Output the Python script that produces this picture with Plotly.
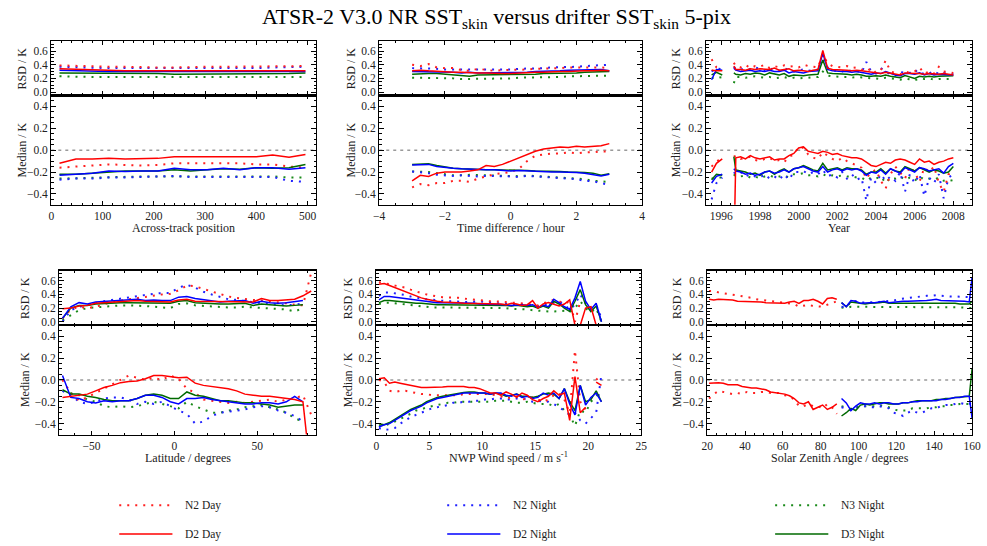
import plotly.graph_objects as go

W, H = 987, 546

# ---------------- data ----------------
# Across-track position
track_x = [16, 48, 80, 112, 144, 176, 208, 240, 272, 304, 336, 368, 400, 432, 464, 496]
track_rsd_n2day = [0.39, 0.38, 0.37, 0.37, 0.37, 0.36, 0.36, 0.36, 0.37, 0.37, 0.37, 0.37, 0.37, 0.37, 0.37, 0.38]
track_rsd_d2day = [0.34, 0.33, 0.32, 0.32, 0.31, 0.31, 0.31, 0.31, 0.30, 0.31, 0.31, 0.31, 0.31, 0.31, 0.31, 0.31]
track_rsd_n2night = [0.37, 0.36, 0.35, 0.35, 0.35, 0.35, 0.34, 0.34, 0.34, 0.34, 0.35, 0.35, 0.35, 0.36, 0.36, 0.37]
track_rsd_d2night = [0.32, 0.31, 0.30, 0.30, 0.30, 0.30, 0.30, 0.29, 0.29, 0.29, 0.30, 0.30, 0.30, 0.30, 0.30, 0.30]
track_rsd_n3night = [0.23, 0.22, 0.22, 0.22, 0.22, 0.22, 0.22, 0.21, 0.21, 0.21, 0.22, 0.22, 0.22, 0.22, 0.21, 0.22]
track_rsd_d3night = [0.28, 0.28, 0.27, 0.27, 0.27, 0.27, 0.27, 0.26, 0.26, 0.26, 0.27, 0.27, 0.27, 0.27, 0.27, 0.28]
track_med_d2day = [-0.12, -0.08, -0.08, -0.075, -0.08, -0.08, -0.075, -0.06, -0.06, -0.06, -0.055, -0.055, -0.06, -0.045, -0.065, -0.04]
track_med_n2day = [-0.16, -0.15, -0.14, -0.13, -0.135, -0.14, -0.135, -0.12, -0.12, -0.12, -0.125, -0.12, -0.13, -0.13, -0.15, -0.16]
track_med_d2night = [-0.23, -0.22, -0.21, -0.19, -0.195, -0.19, -0.19, -0.165, -0.18, -0.18, -0.165, -0.18, -0.16, -0.16, -0.175, -0.16]
track_med_d3night = [-0.22, -0.22, -0.21, -0.20, -0.19, -0.19, -0.19, -0.18, -0.19, -0.18, -0.17, -0.175, -0.16, -0.165, -0.16, -0.13]
track_med_n2night = [-0.27, -0.26, -0.26, -0.25, -0.25, -0.245, -0.245, -0.235, -0.245, -0.245, -0.245, -0.25, -0.245, -0.245, -0.28, -0.29]
track_med_n3night = [-0.26, -0.255, -0.25, -0.245, -0.245, -0.24, -0.24, -0.24, -0.24, -0.24, -0.24, -0.245, -0.245, -0.24, -0.25, -0.25]

# Time difference / hour
time_x = [-3, -2.75, -2.5, -2.25, -2, -1.75, -1.5, -1.25, -1, -0.75, -0.5, -0.25, 0,
          0.25, 0.5, 0.75, 1, 1.25, 1.5, 1.75, 2, 2.25, 2.5, 2.75, 3]
time_rsd_n2day = [0.40, 0.38, 0.41, 0.36, 0.35, 0.35, 0.32, 0.31, 0.34, 0.32, 0.31, 0.32, 0.32,
                  0.33, 0.33, 0.34, 0.34, 0.35, 0.35, 0.36, 0.36, 0.36, 0.37, 0.36, 0.35]
time_rsd_d2day = [0.31, 0.32, 0.31, 0.30, 0.30, 0.29, 0.29, 0.28, 0.28, 0.28, 0.27, 0.27, 0.27,
                  0.28, 0.28, 0.29, 0.29, 0.30, 0.30, 0.30, 0.31, 0.31, 0.31, 0.32, 0.31]
time_rsd_n2night = [0.35, 0.35, 0.34, 0.34, 0.33, 0.33, 0.33, 0.32, 0.32, 0.32, 0.33, 0.33, 0.33,
                    0.34, 0.34, 0.35, 0.35, 0.36, 0.36, 0.37, 0.37, 0.38, 0.39, 0.40, 0.40]
time_rsd_d2night = [0.30, 0.30, 0.30, 0.29, 0.29, 0.29, 0.28, 0.29, 0.28, 0.28, 0.28, 0.28, 0.28,
                    0.29, 0.29, 0.30, 0.30, 0.31, 0.31, 0.32, 0.32, 0.32, 0.33, 0.33, 0.31]
time_rsd_n3night = [0.21, 0.21, 0.20, 0.20, 0.20, 0.20, 0.19, 0.19, 0.19, 0.19, 0.20, 0.20, 0.20,
                    0.21, 0.21, 0.21, 0.22, 0.22, 0.22, 0.23, 0.23, 0.23, 0.24, 0.24, 0.24]
time_rsd_d3night = [0.26, 0.27, 0.27, 0.27, 0.26, 0.26, 0.25, 0.23, 0.25, 0.25, 0.25, 0.25, 0.25,
                    0.26, 0.26, 0.26, 0.27, 0.27, 0.28, 0.28, 0.28, 0.29, 0.29, 0.30, 0.30]
time_med_d2day = [-0.28, -0.23, -0.24, -0.21, -0.20, -0.20, -0.20, -0.19, -0.18, -0.14, -0.15, -0.13, -0.10,
                  -0.07, -0.04, -0.01, 0.01, 0.02, 0.03, 0.025, 0.035, 0.03, 0.035, 0.04, 0.06]
time_med_n2day = [-0.34, -0.31, -0.32, -0.30, -0.30, -0.28, -0.28, -0.29, -0.26, -0.24, -0.22, -0.21, -0.20,
                  -0.17, -0.10, -0.05, -0.04, -0.03, -0.03, -0.02, -0.03, -0.02, -0.02, -0.01, -0.015]
time_med_d2night = [-0.135, -0.135, -0.13, -0.15, -0.16, -0.165, -0.17, -0.175, -0.18, -0.18, -0.18, -0.185, -0.19,
                    -0.185, -0.19, -0.19, -0.195, -0.20, -0.20, -0.20, -0.205, -0.21, -0.22, -0.235, -0.22]
time_med_d3night = [-0.13, -0.13, -0.125, -0.14, -0.155, -0.165, -0.17, -0.175, -0.18, -0.18, -0.18, -0.18, -0.185,
                    -0.18, -0.185, -0.19, -0.19, -0.19, -0.195, -0.20, -0.20, -0.205, -0.21, -0.23, -0.215]
time_med_n2night = [-0.195, -0.20, -0.21, -0.225, -0.23, -0.235, -0.23, -0.235, -0.24, -0.235, -0.235, -0.24, -0.24,
                    -0.245, -0.235, -0.24, -0.245, -0.25, -0.255, -0.26, -0.265, -0.28, -0.285, -0.30, -0.32]
time_med_n3night = [-0.195, -0.198, -0.20, -0.21, -0.22, -0.23, -0.23, -0.225, -0.228, -0.23, -0.232, -0.235, -0.238,
                    -0.238, -0.232, -0.236, -0.24, -0.245, -0.25, -0.255, -0.26, -0.265, -0.28, -0.285, -0.29]

# Year (early 1995-96 segment, a gap, then 1996.65 - 2008)
year_x = [1995.5, 1995.75, 1996.05, 1996.3,
          1996.65, 1996.75, 1997.0, 1997.25, 1997.5, 1997.75, 1998.0, 1998.25, 1998.5, 1998.75,
          1999.0, 1999.25, 1999.5, 1999.75, 2000.0, 2000.25, 2000.5, 2000.75, 2001.0, 2001.25,
          2001.5, 2001.75, 2002.0, 2002.25, 2002.5, 2002.75, 2003.0, 2003.25, 2003.5, 2003.75,
          2004.0, 2004.25, 2004.5, 2004.75, 2005.0, 2005.25, 2005.5, 2005.75, 2006.0, 2006.25,
          2006.5, 2006.75, 2007.0, 2007.25, 2007.5, 2007.75, 2008.0]
year_rsd_d2day = [0.32, 0.31, 0.31, None,
                  0.38, 0.33, 0.33, 0.32, 0.34, 0.33, 0.34, 0.33, 0.33, 0.35, 0.32, 0.33, 0.34, 0.31, 0.32,
                  0.31, 0.30, 0.32, 0.33, 0.61, 0.35, 0.33, 0.33, 0.32, 0.32, 0.31, 0.32, 0.31, 0.30, 0.28,
                  0.28, 0.27, 0.29, 0.28, 0.27, 0.25, 0.28, 0.27, 0.27, 0.27, 0.26, 0.27, 0.26, 0.26, 0.27,
                  0.26, 0.25]
year_rsd_n2day = [0.48, 0.36, 0.34, None,
                  0.43, 0.38, 0.36, 0.40, 0.35, 0.38, 0.37, 0.40, 0.35, 0.38, 0.36, 0.39, 0.37, 0.38, 0.36,
                  0.40, 0.38, 0.37, 0.36, 0.55, 0.42, 0.38, 0.37, 0.36, 0.38, 0.35, 0.36, 0.33, 0.30, 0.35,
                  0.28, 0.32, 0.46, 0.30, 0.28, 0.26, 0.30, 0.28, 0.30, 0.36, 0.27, 0.30, 0.27, 0.37, 0.30,
                  0.29, 0.28]
year_rsd_d2night = [0.18, 0.33, 0.32, None,
                    0.35, 0.32, 0.30, 0.31, 0.32, 0.30, 0.31, 0.30, 0.32, 0.30, 0.30, 0.32, 0.28, 0.30, 0.29,
                    0.28, 0.30, 0.31, 0.31, 0.57, 0.33, 0.31, 0.30, 0.30, 0.30, 0.29, 0.30, 0.29, 0.27, 0.26,
                    0.28, 0.27, 0.30, 0.27, 0.25, 0.24, 0.27, 0.27, 0.26, 0.28, 0.25, 0.27, 0.25, 0.26, 0.26,
                    0.26, 0.25]
year_rsd_n2night = [0.30, 0.35, 0.33, None,
                    0.37, 0.34, 0.33, 0.35, 0.33, 0.36, 0.34, 0.31, 0.35, 0.32, 0.31, 0.35, 0.32, 0.30, 0.32,
                    0.33, 0.31, 0.32, 0.33, 0.50, 0.36, 0.32, 0.31, 0.30, 0.33, 0.30, 0.31, 0.28, 0.44, 0.30,
                    0.27, 0.35, 0.30, 0.26, 0.24, 0.30, 0.27, 0.28, 0.33, 0.26, 0.28, 0.27, 0.31, 0.26, 0.28,
                    0.27, 0.26]
year_rsd_d3night = [0.25, 0.29, 0.25, None,
                    0.28, 0.26, 0.25, 0.27, 0.26, 0.28, 0.27, 0.25, 0.28, 0.26, 0.25, 0.27, 0.23, 0.25, 0.24,
                    0.24, 0.25, 0.26, 0.26, 0.47, 0.28, 0.27, 0.27, 0.26, 0.26, 0.25, 0.26, 0.25, 0.23, 0.23,
                    0.24, 0.23, 0.25, 0.23, 0.22, 0.21, 0.24, 0.22, 0.20, 0.23, 0.22, 0.23, 0.22, 0.23, 0.23,
                    0.23, 0.24]
year_rsd_n3night = [0.20, 0.22, 0.21, None,
                    0.13, 0.22, 0.22, 0.21, 0.22, 0.23, 0.22, 0.21, 0.22, 0.20, 0.21, 0.22, 0.20, 0.21, 0.20,
                    0.20, 0.21, 0.22, 0.22, 0.30, 0.24, 0.23, 0.22, 0.22, 0.22, 0.21, 0.22, 0.21, 0.21, 0.20,
                    0.20, 0.19, 0.21, 0.20, 0.18, 0.18, 0.20, 0.19, 0.17, 0.20, 0.19, 0.20, 0.18, 0.19, 0.19,
                    0.18, 0.19]
year_med_d2day = [-0.20, -0.12, -0.08, None,
                  -1.0, -0.07, -0.06, -0.08, -0.05, -0.07, -0.08, -0.07, -0.06, -0.09, -0.08, -0.08, -0.05,
                  -0.03, 0.02, 0.03, -0.01, -0.02, -0.03, -0.01, -0.02, -0.04, -0.03, -0.05, -0.06, -0.07,
                  -0.07, -0.08, -0.11, -0.14, -0.15, -0.13, -0.11, -0.12, -0.09, -0.08, -0.09, -0.11, -0.13,
                  -0.08, -0.11, -0.10, -0.13, -0.11, -0.10, -0.08, -0.07]
year_med_n2day = [-0.15, -0.10, -0.08, None,
                  -0.06, -0.05, -0.08, -0.07, -0.06, -0.09, -0.10, -0.08, -0.07, -0.10, -0.09, -0.11, -0.06,
                  -0.04, 0.03, 0.02, -0.04, -0.07, -0.08, -0.02, -0.05, -0.08, -0.10, -0.07, -0.10, -0.12,
                  -0.14, -0.16, -0.26, -0.20, -0.18, -0.28, -0.35, -0.22, -0.15, -0.20, -0.26, -0.15, -0.20,
                  -0.29, -0.16, -0.20, -0.15, -0.30, -0.38, -0.22, -0.20]
year_med_d2night = [-0.30, -0.24, -0.22, None,
                    -0.17, -0.19, -0.20, -0.22, -0.21, -0.23, -0.22, -0.20, -0.19, -0.21, -0.20, -0.18, -0.20,
                    -0.17, -0.16, -0.15, -0.17, -0.19, -0.20, -0.15, -0.20, -0.18, -0.17, -0.19, -0.17, -0.18,
                    -0.17, -0.19, -0.23, -0.20, -0.21, -0.18, -0.22, -0.17, -0.19, -0.21, -0.16, -0.18, -0.20,
                    -0.16, -0.17, -0.19, -0.18, -0.17, -0.21, -0.15, -0.12]
year_med_d3night = [-0.27, -0.22, -0.23, None,
                    -0.06, -0.18, -0.19, -0.20, -0.22, -0.21, -0.23, -0.20, -0.19, -0.22, -0.19, -0.17, -0.20,
                    -0.17, -0.16, -0.14, -0.16, -0.18, -0.19, -0.12, -0.18, -0.17, -0.16, -0.18, -0.16, -0.17,
                    -0.17, -0.18, -0.22, -0.20, -0.20, -0.17, -0.21, -0.17, -0.19, -0.20, -0.15, -0.17, -0.19,
                    -0.16, -0.18, -0.20, -0.18, -0.19, -0.21, -0.20, -0.15]
year_med_n2night = [-0.45, -0.30, -0.25, None,
                    -0.20, -0.22, -0.20, -0.24, -0.22, -0.24, -0.25, -0.22, -0.26, -0.24, -0.27, -0.22, -0.27,
                    -0.20, -0.20, -0.19, -0.22, -0.20, -0.22, -0.18, -0.24, -0.22, -0.25, -0.20, -0.26, -0.22,
                    -0.27, -0.25, -0.46, -0.25, -0.30, -0.22, -0.28, -0.24, -0.28, -0.20, -0.38, -0.22, -0.30,
                    -0.22, -0.42, -0.25, -0.30, -0.22, -0.44, -0.25, -0.22]
year_med_n3night = [-0.26, -0.25, -0.25, None,
                    -0.22, -0.24, -0.24, -0.23, -0.25, -0.24, -0.26, -0.24, -0.23, -0.25, -0.24, -0.23, -0.25,
                    -0.22, -0.22, -0.21, -0.23, -0.23, -0.24, -0.22, -0.24, -0.23, -0.24, -0.23, -0.24, -0.24,
                    -0.25, -0.25, -0.28, -0.25, -0.26, -0.24, -0.30, -0.25, -0.26, -0.24, -0.27, -0.25, -0.28,
                    -0.24, -0.27, -0.26, -0.27, -0.25, -0.28, -0.27, -0.28]

# Latitude / degrees
lat_x = [-67.5, -62.5, -57.5, -52.5, -47.5, -42.5, -37.5, -32.5, -27.5, -22.5, -17.5, -12.5, -7.5, -2.5,
         2.5, 7.5, 12.5, 17.5, 22.5, 27.5, 32.5, 37.5, 42.5, 47.5, 52.5, 57.5, 62.5, 67.5, 72.5, 77.5, 82.5]
lat_rsd_d2day = [0.19, 0.20, 0.23, 0.24, 0.27, 0.28, 0.29, 0.30, 0.30, 0.31, 0.30, 0.30, 0.30, 0.29, 0.32, 0.33,
                 0.30, 0.30, 0.29, 0.30, 0.29, 0.30, 0.30, 0.29, 0.34, 0.31, 0.31, 0.32, 0.33, 0.38, 0.45]
lat_rsd_n2day = [0.05, 0.18, 0.22, 0.20, 0.22, 0.26, 0.29, 0.31, 0.33, 0.35, 0.37, 0.39, 0.40, 0.41, 0.46, 0.53,
                 0.52, 0.48, 0.44, 0.40, 0.37, 0.35, 0.33, 0.32, 0.31, 0.30, 0.28, 0.27, 0.25, 0.24, 0.72]
lat_rsd_d2night = [0.05, 0.22, 0.28, 0.26, 0.29, 0.30, 0.31, 0.31, 0.33, 0.33, 0.31, 0.32, 0.31, 0.31, 0.36, 0.37,
                   0.34, 0.32, 0.30, 0.29, 0.30, 0.30, 0.31, 0.27, 0.30, 0.28, 0.27, 0.28, 0.29, 0.31, None]
lat_rsd_n2night = [0.00, 0.17, 0.22, 0.25, 0.28, 0.30, 0.32, 0.34, 0.35, 0.37, 0.39, 0.41, 0.42, 0.42, 0.50, 0.54,
                   0.50, 0.44, 0.40, 0.36, 0.33, 0.32, 0.30, 0.28, 0.27, 0.26, 0.25, 0.24, 0.25, 0.27, None]
lat_rsd_d3night = [0.05, 0.20, 0.24, 0.24, 0.26, 0.27, 0.28, 0.28, 0.28, 0.28, 0.27, 0.27, 0.27, 0.27, 0.30, 0.31,
                   0.28, 0.27, 0.26, 0.26, 0.26, 0.26, 0.27, 0.24, 0.26, 0.25, 0.24, 0.23, 0.24, 0.25, None]
lat_rsd_n3night = [0.02, 0.10, 0.17, 0.20, 0.21, 0.23, 0.24, 0.24, 0.24, 0.24, 0.23, 0.22, 0.21, 0.20, 0.26, 0.27,
                   0.24, 0.23, 0.22, 0.21, 0.21, 0.21, 0.22, 0.21, 0.20, 0.20, 0.19, 0.18, 0.15, 0.20, None]
lat_med_d2day = [-0.16, -0.15, -0.14, -0.13, -0.10, -0.07, -0.05, -0.025, -0.015, -0.01, 0.01, 0.04, 0.04, 0.03,
                 0.02, 0.025, -0.03, -0.05, -0.06, -0.07, -0.08, -0.10, -0.13, -0.14, -0.15, -0.15, -0.16, -0.17,
                 -0.18, -0.20, -0.90]
lat_med_n2day = [0.00, -0.12, -0.19, -0.16, -0.12, -0.08, -0.04, 0.00, 0.04, 0.02, 0.00, 0.02, 0.00, 0.04, 0.01,
                 -0.08, -0.12, -0.18, -0.19, -0.20, -0.21, -0.20, -0.21, -0.20, -0.19, -0.18, -0.20, -0.18, -0.17,
                 -0.14, -0.32]
lat_med_d2night = [0.04, -0.16, -0.17, -0.20, -0.21, -0.19, -0.20, -0.19, -0.19, -0.17, -0.14, -0.14, -0.16, -0.20,
                   -0.22, -0.17, -0.17, -0.16, -0.18, -0.19, -0.20, -0.21, -0.22, -0.22, -0.21, -0.21, -0.22, -0.20,
                   -0.15, -0.20, None]
lat_med_d3night = [-0.09, -0.13, -0.13, -0.15, -0.16, -0.18, -0.19, -0.19, -0.19, -0.17, -0.14, -0.13, -0.14, -0.17,
                   -0.17, -0.11, -0.14, -0.15, -0.17, -0.19, -0.19, -0.20, -0.21, -0.21, -0.22, -0.23, -0.25, -0.24,
                   -0.23, -0.23, None]
lat_med_n2night = [-0.10, -0.14, -0.20, -0.22, -0.20, -0.17, -0.16, -0.16, -0.18, -0.22, -0.20, -0.22, -0.20, -0.24,
                   -0.28, -0.31, -0.40, -0.38, -0.33, -0.30, -0.29, -0.28, -0.27, -0.25, -0.24, -0.25, -0.28, -0.30,
                   -0.33, -0.38, None]
lat_med_n3night = [-0.10, -0.12, -0.14, -0.18, -0.20, -0.24, -0.25, -0.24, -0.25, -0.24, -0.22, -0.20, -0.22, -0.24,
                   -0.26, -0.20, -0.24, -0.27, -0.30, -0.30, -0.28, -0.27, -0.25, -0.24, -0.23, -0.25, -0.27, -0.30,
                   -0.35, -0.38, None]

# NWP wind speed / m s-1
wind_x = [0.25, 0.75, 1.25, 1.75, 2.25, 2.75, 3.25, 3.75, 4.25, 4.75, 5.25, 5.75, 6.25, 6.75, 7.25,
          7.75, 8.25, 8.75, 9.25, 9.75, 10.25, 10.75, 11.25, 11.75, 12.25, 12.75, 13.25, 13.75, 14.25,
          14.75, 15.25, 15.75, 16.25, 16.75, 17.25, 17.75, 18.25, 18.75, 19.25, 19.75, 20.25, 20.75, 21.25]
wind_rsd_d2day = [0.55, 0.56, 0.53, 0.50, 0.47, 0.44, 0.40, 0.37, 0.35, 0.33, 0.31, 0.30, 0.29, 0.29, 0.28,
                  0.28, 0.27, 0.27, 0.27, 0.27, 0.26, 0.26, 0.26, 0.26, 0.25, 0.27, 0.26, 0.24, 0.25, 0.31,
                  0.20, 0.26, 0.28, 0.25, 0.23, 0.26, 0.32, -0.05, -0.05, 0.20, 0.22, -0.05, None]
wind_rsd_n2day = [0.58, 0.57, 0.55, 0.53, 0.52, 0.50, 0.47, 0.44, 0.42, 0.40, 0.38, 0.37, 0.36, 0.36, 0.35,
                  0.35, 0.34, 0.33, 0.32, 0.32, 0.31, 0.30, 0.30, 0.29, 0.29, 0.28, 0.28, 0.27, 0.26, 0.25,
                  0.24, 0.27, 0.30, 0.32, 0.30, 0.26, 0.30, 0.00, 0.30, None, None, None, None]
wind_rsd_d2night = [0.32, 0.37, 0.37, 0.36, 0.35, 0.33, 0.32, 0.31, 0.31, 0.30, 0.29, 0.28, 0.28, 0.28, 0.28,
                    0.27, 0.27, 0.27, 0.27, 0.26, 0.26, 0.26, 0.26, 0.25, 0.25, 0.24, 0.25, 0.25, 0.24, 0.25,
                    0.21, 0.24, 0.22, 0.33, 0.28, 0.22, 0.18, 0.35, 0.59, 0.30, 0.18, 0.27, 0.00]
wind_rsd_n2night = [0.38, 0.43, 0.43, 0.42, 0.41, 0.39, 0.37, 0.35, 0.34, 0.33, 0.32, 0.31, 0.30, 0.30, 0.30,
                    0.29, 0.29, 0.29, 0.30, 0.30, 0.29, 0.28, 0.28, 0.27, 0.26, 0.26, 0.26, 0.26, 0.25, 0.24,
                    0.23, 0.24, 0.26, 0.28, 0.30, 0.25, 0.18, 0.25, 0.40, 0.27, 0.20, 0.25, 0.05]
wind_rsd_d3night = [0.28, 0.31, 0.31, 0.30, 0.29, 0.28, 0.28, 0.27, 0.27, 0.26, 0.26, 0.25, 0.25, 0.25, 0.25,
                    0.25, 0.25, 0.25, 0.25, 0.25, 0.25, 0.25, 0.25, 0.25, 0.24, 0.23, 0.24, 0.23, 0.22, 0.23,
                    0.20, 0.23, 0.20, 0.30, 0.26, 0.20, 0.15, 0.30, 0.47, 0.25, 0.15, 0.23, 0.00]
wind_rsd_n3night = [0.26, 0.28, 0.28, 0.27, 0.26, 0.25, 0.24, 0.23, 0.22, 0.22, 0.21, 0.21, 0.21, 0.21, 0.21,
                    0.21, 0.21, 0.21, 0.21, 0.21, 0.21, 0.20, 0.20, 0.20, 0.20, 0.19, 0.19, 0.18, 0.18, 0.17,
                    0.16, 0.16, 0.15, 0.15, 0.15, 0.16, 0.14, 0.20, 0.30, 0.20, 0.14, 0.20, 0.00]
wind_med_d2day = [0.01, 0.02, -0.03, -0.02, -0.03, -0.04, -0.05, -0.06, -0.07, -0.07, -0.07, -0.065, -0.065,
                  -0.06, -0.06, -0.065, -0.06, -0.07, -0.07, -0.08, -0.10, -0.12, -0.12, -0.14, -0.11, -0.13,
                  -0.16, -0.12, -0.14, -0.18, -0.20, -0.17, -0.15, -0.10, -0.14, -0.12, -0.37, 0.03, -0.30,
                  -0.25, None, -0.02, -0.05]
wind_med_n2day = [0.00, -0.02, -0.10, -0.11, -0.10, -0.10, -0.11, -0.12, -0.13, -0.13, -0.14, -0.14, -0.14,
                  -0.14, -0.14, -0.14, -0.13, -0.13, -0.13, -0.13, -0.13, -0.13, -0.14, -0.15, -0.17, -0.16,
                  -0.15, -0.18, -0.17, -0.16, -0.18, -0.20, -0.18, -0.14, -0.12, -0.18, -0.30, 0.27, -0.20,
                  -0.27, None, 0.00, 0.05]
wind_med_d2night = [-0.43, -0.41, -0.40, -0.37, -0.34, -0.31, -0.28, -0.26, -0.24, -0.21, -0.19, -0.17, -0.16,
                    -0.15, -0.14, -0.13, -0.12, -0.12, -0.12, -0.12, -0.12, -0.13, -0.12, -0.12, -0.14, -0.15,
                    -0.13, -0.16, -0.15, -0.17, -0.16, -0.12, -0.14, -0.12, -0.17, -0.08, -0.22, -0.32, -0.05,
                    -0.23, -0.16, -0.12, -0.20]
wind_med_d3night = [-0.40, -0.41, -0.39, -0.36, -0.33, -0.30, -0.27, -0.25, -0.23, -0.20, -0.18, -0.16, -0.15,
                    -0.14, -0.13, -0.12, -0.115, -0.11, -0.11, -0.12, -0.12, -0.13, -0.12, -0.13, -0.15, -0.14,
                    -0.13, -0.15, -0.15, -0.16, -0.15, -0.13, -0.12, -0.13, -0.17, -0.08, -0.20, -0.28, -0.05,
                    -0.20, -0.18, -0.10, -0.20]
wind_med_n2night = [-0.44, -0.46, -0.45, -0.44, -0.40, -0.37, -0.34, -0.32, -0.30, -0.28, -0.26, -0.25, -0.24,
                    -0.23, -0.21, -0.21, -0.20, -0.20, -0.19, -0.19, -0.18, -0.18, -0.17, -0.17, -0.18, -0.18,
                    -0.17, -0.17, -0.18, -0.20, -0.19, -0.20, -0.20, -0.22, -0.25, -0.28, -0.32, -0.30, -0.37,
                    -0.40, -0.35, -0.30, 0.05]
wind_med_n3night = [-0.42, -0.42, -0.40, -0.38, -0.36, -0.33, -0.31, -0.28, -0.27, -0.25, -0.24, -0.23, -0.22,
                    -0.21, -0.21, -0.20, -0.20, -0.20, -0.20, -0.20, -0.20, -0.20, -0.19, -0.19, -0.19, -0.20,
                    -0.21, -0.21, -0.20, -0.21, -0.22, -0.22, -0.22, -0.24, -0.22, -0.28, -0.32, -0.42, -0.28,
                    -0.30, -0.20, -0.15, -0.10]

# Solar zenith angle / degrees (day and night branches)
sza_day_x = [21, 23.5, 26, 28.5, 31, 33.5, 36, 38.5, 41, 43.5, 46, 48.5, 51, 53.5, 56, 58.5, 61, 63.5,
             66, 68.5, 71, 73.5, 76, 78.5, 81, 83.5, 86, 88.5]
sza_night_x = [91, 93.5, 96, 98.5, 101, 103.5, 106, 108.5, 111, 113.5, 116, 118.5, 121, 123.5, 126, 128.5,
               131, 133.5, 136, 138.5, 141, 143.5, 146, 148.5, 151, 153.5, 156, 158.5, 160]
sza_rsd_d2day = [0.33, 0.32, 0.33, 0.33, 0.32, 0.32, 0.30, 0.30, 0.30, 0.30, 0.29, 0.29, 0.28, 0.28, 0.28, 0.28,
                 0.27, 0.29, 0.30, 0.27, 0.31, 0.31, 0.33, 0.30, 0.26, 0.34, 0.35, 0.33]
sza_rsd_n2day = [0.45, 0.45, 0.43, 0.42, 0.41, 0.40, 0.38, 0.37, 0.36, 0.35, 0.33, 0.32, 0.31, 0.30, 0.29, 0.28,
                 0.27, 0.27, 0.26, 0.22, 0.24, 0.25, 0.23, 0.22, 0.22, 0.25, 0.27, 0.30]
sza_med_d2day = [-0.03, -0.025, -0.025, -0.03, -0.045, -0.045, -0.045, -0.06, -0.07, -0.075, -0.075, -0.08,
                 -0.09, -0.11, -0.115, -0.12, -0.13, -0.145, -0.17, -0.21, -0.22, -0.20, -0.27, -0.25, -0.23,
                 -0.27, -0.25, -0.22]
sza_med_n2day = [-0.17, -0.13, -0.10, -0.11, -0.12, -0.13, -0.12, -0.13, -0.11, -0.12, -0.12, -0.11, -0.11,
                 -0.12, -0.12, -0.12, -0.14, -0.15, -0.18, -0.24, -0.24, -0.22, -0.24, -0.24, -0.26, -0.22,
                 -0.25, -0.31]
sza_rsd_d2night = [0.28, 0.22, 0.31, 0.30, 0.27, 0.28, 0.28, 0.28, 0.29, 0.30, 0.28, 0.29, 0.30, 0.30, 0.30,
                   0.30, 0.31, 0.31, 0.31, 0.32, 0.33, 0.31, 0.31, 0.31, 0.31, 0.30, 0.30, 0.29, 0.65]
sza_rsd_n2night = [0.22, 0.21, 0.30, 0.30, 0.28, 0.28, 0.28, 0.28, 0.29, 0.30, 0.30, 0.31, 0.33, 0.34, 0.34,
                   0.35, 0.36, 0.37, 0.38, 0.38, 0.39, 0.38, 0.37, 0.37, 0.37, 0.37, 0.36, 0.36, 0.40]
sza_rsd_d3night = [0.28, 0.22, 0.29, 0.28, 0.27, 0.26, 0.27, 0.27, 0.28, 0.29, 0.27, 0.27, 0.27, 0.27, 0.27,
                   0.27, 0.27, 0.27, 0.27, 0.28, 0.28, 0.28, 0.27, 0.27, 0.27, 0.26, 0.26, 0.26, 0.30]
sza_rsd_n3night = [0.21, 0.20, 0.22, 0.22, 0.22, 0.22, 0.22, 0.22, 0.22, 0.22, 0.22, 0.22, 0.22, 0.22, 0.22,
                   0.22, 0.22, 0.21, 0.21, 0.21, 0.21, 0.21, 0.21, 0.21, 0.21, 0.21, 0.21, 0.20, 0.20]
sza_med_d2night = [-0.17, -0.21, -0.28, -0.24, -0.21, -0.22, -0.22, -0.21, -0.22, -0.21, -0.21, -0.22, -0.22,
                   -0.21, -0.21, -0.20, -0.20, -0.19, -0.19, -0.19, -0.19, -0.18, -0.18, -0.17, -0.16, -0.16,
                   -0.15, -0.15, -0.35]
sza_med_d3night = [-0.33, -0.30, -0.26, -0.28, -0.23, -0.22, -0.23, -0.22, -0.21, -0.21, -0.22, -0.22, -0.22,
                   -0.21, -0.21, -0.20, -0.19, -0.19, -0.19, -0.19, -0.18, -0.18, -0.17, -0.17, -0.16, -0.16,
                   -0.155, -0.15, 0.10]
sza_med_n2night = [-0.25, -0.26, -0.28, -0.26, -0.24, -0.24, -0.25, -0.25, -0.24, -0.25, -0.26, -0.30, -0.31,
                   -0.33, -0.30, -0.28, -0.30, -0.30, -0.28, -0.26, -0.26, -0.24, -0.23, -0.23, -0.22, -0.21,
                   -0.22, -0.22, -0.20]
sza_med_n3night = [-0.24, -0.25, -0.27, -0.25, -0.24, -0.24, -0.24, -0.24, -0.23, -0.24, -0.25, -0.27, -0.28,
                   -0.28, -0.28, -0.26, -0.26, -0.26, -0.26, -0.25, -0.25, -0.24, -0.24, -0.23, -0.23, -0.22,
                   -0.22, -0.22, -0.20]

LEGEND_NAMES = ["N2 Day", "D2 Day", "N2 Night", "D2 Night", "N3 Night", "D3 Night"]

# ---------------- styling ----------------
FONT = "Liberation Serif, Times New Roman, serif"
DOT = "2px,6px"
STYLE = {
    "N2 Day":   dict(color="#ff2020", dash=DOT, width=2),
    "D2 Day":   dict(color="#ff0000", dash="solid", width=1.5),
    "N2 Night": dict(color="#2020ff", dash=DOT, width=2),
    "D2 Night": dict(color="#0000ff", dash="solid", width=1.5),
    "N3 Night": dict(color="#1a8a1a", dash=DOT, width=2),
    "D3 Night": dict(color="#006a00", dash="solid", width=1.5),
}
DRAW_ORDER = ["N3 Night", "N2 Night", "N2 Day", "D3 Night", "D2 Night", "D2 Day"]


def ser(name, x, rsd, med):
    return dict(name=name, x=x, rsd=rsd, med=med)


panels = [
    dict(geom=(46, 315, 41, 96, 206), xrange=[0, 517], xticks=[0, 100, 200, 300, 400, 500], xminor=20,
         xtitle="Across-track position", yoff=29,
         series=[ser("N2 Day", track_x, track_rsd_n2day, track_med_n2day),
                 ser("D2 Day", track_x, track_rsd_d2day, track_med_d2day),
                 ser("N2 Night", track_x, track_rsd_n2night, track_med_n2night),
                 ser("D2 Night", track_x, track_rsd_d2night, track_med_d2night),
                 ser("N3 Night", track_x, track_rsd_n3night, track_med_n3night),
                 ser("D3 Night", track_x, track_rsd_d3night, track_med_d3night)]),
    dict(geom=(379, 646, 41, 96, 206), xrange=[-4, 4], xticks=[-4, -2, 0, 2, 4], xminor=0.5,
         xtitle="Time difference / hour", yoff=28,
         series=[ser("N2 Day", time_x, time_rsd_n2day, time_med_n2day),
                 ser("D2 Day", time_x, time_rsd_d2day, time_med_d2day),
                 ser("N2 Night", time_x, time_rsd_n2night, time_med_n2night),
                 ser("D2 Night", time_x, time_rsd_d2night, time_med_d2night),
                 ser("N3 Night", time_x, time_rsd_n3night, time_med_n3night),
                 ser("D3 Night", time_x, time_rsd_d3night, time_med_d3night)]),
    dict(geom=(711, 981, 41, 96, 206), xrange=[1995.22, 2008.97],
         xticks=[1996, 1998, 2000, 2002, 2004, 2006, 2008], xminor=0.5,
         xtitle="Year", yoff=30,
         series=[ser("N2 Day", year_x, year_rsd_n2day, year_med_n2day),
                 ser("D2 Day", year_x, year_rsd_d2day, year_med_d2day),
                 ser("N2 Night", year_x, year_rsd_n2night, year_med_n2night),
                 ser("D2 Night", year_x, year_rsd_d2night, year_med_d2night),
                 ser("N3 Night", year_x, year_rsd_n3night, year_med_n3night),
                 ser("D3 Night", year_x, year_rsd_d3night, year_med_d3night)]),
    dict(geom=(54, 315, 272, 327, 437), xrange=[-69.5, 85.5], xticks=[-50, 0, 50], xminor=10,
         xtitle="Latitude / degrees", yoff=34,
         series=[ser("N2 Day", lat_x, lat_rsd_n2day, lat_med_n2day),
                 ser("D2 Day", lat_x, lat_rsd_d2day, lat_med_d2day),
                 ser("N2 Night", lat_x, lat_rsd_n2night, lat_med_n2night),
                 ser("D2 Night", lat_x, lat_rsd_d2night, lat_med_d2night),
                 ser("N3 Night", lat_x, lat_rsd_n3night, lat_med_n3night),
                 ser("D3 Night", lat_x, lat_rsd_d3night, lat_med_d3night)]),
    dict(geom=(376, 645, 272, 327, 437), xrange=[0, 25], xticks=[0, 5, 10, 15, 20, 25], xminor=1,
         xtitle="NWP Wind speed / m s<sup>-1</sup>", yoff=28,
         series=[ser("N2 Day", wind_x, wind_rsd_n2day, wind_med_n2day),
                 ser("D2 Day", wind_x, wind_rsd_d2day, wind_med_d2day),
                 ser("N2 Night", wind_x, wind_rsd_n2night, wind_med_n2night),
                 ser("D2 Night", wind_x, wind_rsd_d2night, wind_med_d2night),
                 ser("N3 Night", wind_x, wind_rsd_n3night, wind_med_n3night),
                 ser("D3 Night", wind_x, wind_rsd_d3night, wind_med_d3night)]),
    dict(geom=(712, 981, 272, 327, 437), xrange=[20, 160], xticks=[20, 40, 60, 80, 100, 120, 140, 160],
         xminor=5, xtitle="Solar Zenith Angle / degrees", yoff=30,
         series=[ser("N2 Day", sza_day_x, sza_rsd_n2day, sza_med_n2day),
                 ser("D2 Day", sza_day_x, sza_rsd_d2day, sza_med_d2day),
                 ser("N2 Night", sza_night_x, sza_rsd_n2night, sza_med_n2night),
                 ser("D2 Night", sza_night_x, sza_rsd_d2night, sza_med_d2night),
                 ser("N3 Night", sza_night_x, sza_rsd_n3night, sza_med_n3night),
                 ser("D3 Night", sza_night_x, sza_rsd_d3night, sza_med_d3night)]),
]

RSD_RANGE = [-0.05, 0.75]
RSD_TICKS = [0.0, 0.2, 0.4, 0.6]
MED_RANGE = [-0.5, 0.5]
MED_TICKS = [-0.4, -0.2, 0.0, 0.2, 0.4]


def ax_name(kind, n):
    return kind + ("" if n == 1 else str(n))


fig = go.Figure()
layout = dict(width=W, height=H, margin=dict(l=0, r=0, t=0, b=0), autosize=False,
              paper_bgcolor="white", plot_bgcolor="white", showlegend=False,
              shapes=[], annotations=[])

tickfont = dict(family=FONT, size=11.5, color="#222")
labfont = dict(family=FONT, size=12, color="#222")

for i, p in enumerate(panels):
    L, R, T, S, B = p["geom"]
    n_rsd, n_med = 2 * i + 1, 2 * i + 2
    for n, (yt, yb), kind in [(n_rsd, (T, S), "rsd"), (n_med, (S, B), "med")]:
        xa, ya = ax_name("xaxis", n), ax_name("yaxis", n)
        xr, yr = ax_name("x", n), ax_name("y", n)
        common = dict(showline=True, linecolor="black", linewidth=1.2, mirror="allticks",
                      ticks="inside", tickcolor="black", tickwidth=1, showgrid=False, zeroline=False,
                      tickfont=tickfont)
        layout[xa] = dict(common, domain=[L / W, R / W], anchor=yr, range=p["xrange"],
                          tickmode="array", tickvals=p["xticks"], ticklen=4,
                          showticklabels=(kind == "med"),
                          minor=dict(ticks="inside", ticklen=2, tickcolor="black", dtick=p["xminor"],
                                     tick0=p["xticks"][0]))
        layout[ya] = dict(common, domain=[1 - yb / H, 1 - yt / H], anchor=xr,
                          range=RSD_RANGE if kind == "rsd" else MED_RANGE,
                          tickmode="array", tickvals=RSD_TICKS if kind == "rsd" else MED_TICKS,
                          tickformat=".1f", ticklen=5,
                          minor=dict(ticks="inside", ticklen=2.5, tickcolor="black", dtick=0.05, tick0=0))
        # y-axis title
        layout["annotations"].append(dict(
            text="RSD / K" if kind == "rsd" else "Median / K", textangle=-90, showarrow=False,
            xref=xr + " domain", x=0, xanchor="center", xshift=-p["yoff"],
            yref=yr + " domain", y=0.5, yanchor="middle", font=labfont))
        by = {s["name"]: s for s in p["series"]}
        for name in DRAW_ORDER:
            s = by[name]
            st = STYLE[name]
            fig.add_trace(go.Scatter(
                x=s["x"], y=s[kind], mode="lines", name=name, xaxis=xr, yaxis=yr,
                connectgaps=False,
                line=dict(color=st["color"], width=st["width"], dash=st["dash"]),
                hoverinfo="skip"))
    # zero reference line in median panel
    layout["shapes"].append(dict(type="line", xref=ax_name("x", n_med) + " domain", x0=0, x1=1,
                                 yref=ax_name("y", n_med), y0=0, y1=0, layer="below",
                                 line=dict(color="#9a9a9a", width=1.5, dash="3px,4px")))
    # x-axis title
    layout["annotations"].append(dict(
        text=p["xtitle"], showarrow=False,
        xref=ax_name("x", n_med) + " domain", x=0.5, xanchor="center",
        yref=ax_name("y", n_med) + " domain", y=0, yanchor="middle", yshift=-23, font=labfont))

# title
layout["annotations"].append(dict(
    text="ATSR-2 V3.0 NR SST<sub>skin</sub> versus drifter SST<sub>skin</sub> 5-pix",
    showarrow=False, xref="paper", yref="paper", x=498 / W, y=1 - 18 / H,
    xanchor="center", yanchor="middle", font=dict(family=FONT, size=22, color="black")))

# legend (key lines + labels)
LEG_POS = {"N2 Day": (115, 508), "D2 Day": (115, 537), "N2 Night": (448, 508),
           "D2 Night": (448, 537), "N3 Night": (781, 508), "D3 Night": (781, 537)}
for name in LEGEND_NAMES:
    lx, ly = LEG_POS[name]
    st = STYLE[name]
    layout["shapes"].append(dict(type="line", xref="paper", yref="paper",
                                 x0=lx / W, x1=(lx + 54) / W, y0=1 - ly / H, y1=1 - ly / H,
                                 line=dict(color=st["color"], width=st["width"], dash=st["dash"])))
    layout["annotations"].append(dict(text=name, showarrow=False, xref="paper", yref="paper",
                                      x=(lx + 65) / W, y=1 - ly / H, xanchor="left", yanchor="middle",
                                      font=dict(family=FONT, size=11.5, color="#222")))

fig.update_layout(**layout)
fig.write_html("out.html", config={"displayModeBar": False, "staticPlot": True},
               post_script="document.body.style.margin='0px';document.body.style.overflow='hidden';")
